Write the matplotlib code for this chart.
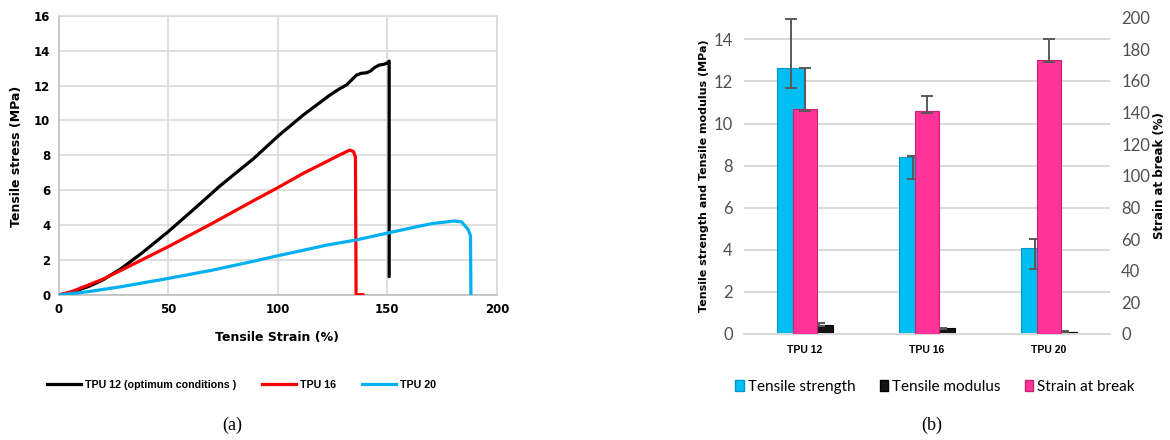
import matplotlib
matplotlib.use("Agg")
import matplotlib.pyplot as plt
from matplotlib.lines import Line2D
from matplotlib.patches import Patch
import numpy as np

# ---------------- data: (a) stress-strain curves ----------------
strain_tpu12 = [0, 5, 13.5, 20, 28.7, 37.8, 50, 62, 73.6, 88.8, 100.5, 111.6, 123.7, 128, 131.3,
                133.5, 135.9, 138, 140.5, 142.5, 144, 146.2, 148.5, 150, 150.8, 150.8]
stress_tpu12 = [0, 0.12, 0.48, 0.85, 1.53, 2.39, 3.63, 4.95, 6.25, 7.8, 9.15, 10.31, 11.45, 11.8, 12.03,
                12.3, 12.6, 12.7, 12.73, 12.85, 13.02, 13.17, 13.22, 13.3, 13.4, 1.05]

strain_tpu16 = [0, 6, 13.5, 20, 28.7, 50, 70, 90.3, 100, 111.6, 120, 127, 132.8, 134.5, 135.4, 135.7, 139]
stress_tpu16 = [0, 0.2, 0.57, 0.9, 1.43, 2.77, 4.1, 5.5, 6.15, 6.97, 7.5, 7.95, 8.3, 8.22, 7.9, 0.02, 0.02]

strain_tpu20 = [0, 13.5, 28.7, 50, 70, 89.5, 100, 110, 122, 135.6, 150.8, 163.3, 170.8, 180.7,
                183.8, 186.8, 187.9, 188.1]
stress_tpu20 = [0, 0.19, 0.48, 0.95, 1.42, 1.95, 2.25, 2.52, 2.85, 3.15, 3.57, 3.91, 4.1, 4.24,
                4.19, 3.76, 3.4, 0.0]

curve_labels = ["TPU 12 (optimum conditions )", "TPU 16", "TPU 20"]
curve_colors = ["#000000", "#FF0000", "#00B0F0"]

# ---------------- data: (b) bar chart ----------------
categories = ["TPU 12", "TPU 16", "TPU 20"]
tensile_strength = [12.65, 8.43, 4.07]
ts_err_low = [0.98, 1.07, 0.97]
ts_err_high = [2.31, 0.03, 0.44]
tensile_modulus = [0.43, 0.27, 0.10]
tm_err = [0.07, 0.03, 0.02]
strain_at_break = [142.0, 141.2, 173.2]
sb_err_low = [0.8, 1.3, 1.3]
sb_err_high = [26.3, 9.2, 13.3]

W, H = 1170, 440
fig = plt.figure(figsize=(W / 100, H / 100), dpi=100)
fig.patch.set_facecolor("white")
SANS = ["Lato", "DejaVu Sans"]
BOLD = ["Liberation Sans", "DejaVu Sans"]

def fx(px):
    return px / W

def fy(py):
    return 1 - py / H

# ================= (a) =================
ax = fig.add_axes([fx(58.7), fy(295), fx(497 - 58.7), (295 - 15.7) / H])
for s, t, c in zip([strain_tpu12, strain_tpu16, strain_tpu20],
                   [stress_tpu12, stress_tpu16, stress_tpu20], curve_colors):
    ax.plot(s, t, color=c, lw=2.3, solid_joinstyle="round", solid_capstyle="round", zorder=3)
ax.set_xlim(0, 200)
ax.set_ylim(0, 16)
ax.set_xticks(np.arange(0, 201, 50))
ax.set_yticks(np.arange(0, 17, 2))
ax.grid(True, color="#D9D9D9", lw=1.2)
ax.set_axisbelow(True)
for sp in ax.spines.values():
    sp.set_color("#D9D9D9")
    sp.set_linewidth(1.2)
ax.spines["bottom"].set_color("#BFBFBF")
ax.spines["left"].set_color("#BFBFBF")
ax.tick_params(length=0, pad=6, labelsize=8.5)
for lab in ax.get_xticklabels() + ax.get_yticklabels():
    lab.set_fontweight("bold")
fig.text(fx(277), fy(337), "Tensile Strain (%)", ha="center", va="center",
         fontsize=9, fontweight="bold")
fig.text(fx(17), fy(156), "Tensile stress (MPa)", ha="center", va="center",
         fontsize=9, fontweight="bold", rotation=90)

handles_a = [Line2D([0], [0], color=c, lw=2.3) for c in curve_colors]
fig.legend(handles_a, curve_labels, loc="center", bbox_to_anchor=(fx(241.5), fy(385)),
           ncol=3, frameon=False, handlelength=3.2, handletextpad=0.35, columnspacing=2.4,
           prop={"size": 7.7, "weight": "bold", "family": BOLD})
fig.text(fx(232), fy(425), "(a)", ha="center", va="center", fontsize=13,
         family="Liberation Serif")

# ================= (b) =================
bx = fig.add_axes([fx(744), fy(334), fx(1110 - 744), (334 - 17.7) / H])
bx2 = bx.twinx()
x = np.arange(len(categories))
cyan = "#00BDF2"
pink = "#FF3399"
blk = "#141414"
err_kw = dict(ecolor="#595959", elinewidth=1.4, capsize=4, capthick=1.4)

bx.bar(x - 0.115, tensile_strength, width=0.23, color=cyan, edgecolor="#0098C8", lw=0.8,
       yerr=[ts_err_low, ts_err_high], error_kw=err_kw, zorder=2)
bx.bar(x + 0.115, tensile_modulus, width=0.23, color=blk, edgecolor="#000000", lw=0.8,
       yerr=tm_err, error_kw=err_kw, zorder=2)
bx2.bar(x, strain_at_break, width=0.19, color=pink, edgecolor="#C8246F", lw=0.8,
        yerr=[sb_err_low, sb_err_high], error_kw=err_kw, zorder=2)

bx.set_xlim(-0.5, 2.5)
bx.set_ylim(0, 15.03)
bx2.set_ylim(0, 200)
bx.set_yticks(np.arange(0, 15, 2))
bx2.set_yticks(np.arange(0, 201, 20))
bx.set_xticks(x)
bx.set_xticklabels(categories, fontsize=7.5, fontweight="bold", family=BOLD)
bx.grid(True, axis="y", color="#D9D9D9", lw=1.4)
bx.set_axisbelow(True)
for a in (bx, bx2):
    for sp in a.spines.values():
        sp.set_visible(False)
bx.spines["bottom"].set_visible(True)
bx.spines["bottom"].set_color("#D9D9D9")
bx.spines["bottom"].set_linewidth(1.4)
bx.tick_params(axis="y", length=0, labelsize=12, labelcolor="#505050", pad=8)
bx.tick_params(axis="x", length=0, pad=8)
bx2.tick_params(axis="y", length=0, labelsize=12, labelcolor="#505050", pad=8)
for lab in bx.get_yticklabels() + bx2.get_yticklabels():
    lab.set_family(SANS)
fig.text(fx(704), fy(176), "Tensile strength and Tensile modulus (MPa)", ha="center",
         va="center", rotation=90, fontsize=8, fontweight="bold")
fig.text(fx(1160), fy(176), "Strain at break (%)", ha="center", va="center",
         rotation=90, fontsize=8.5, fontweight="bold")

handles_b = [Patch(facecolor=cyan, edgecolor="#0098C8"),
             Patch(facecolor=blk, edgecolor="#000000"),
             Patch(facecolor=pink, edgecolor="#C8246F")]
fig.legend(handles_b, ["Tensile strength", "Tensile modulus", "Strain at break"],
           loc="center", bbox_to_anchor=(fx(935), fy(387)), ncol=3, frameon=False,
           handlelength=0.55, handleheight=0.7, handletextpad=0.25, columnspacing=1.6,
           prop={"size": 11, "family": SANS})
fig.text(fx(932), fy(425), "(b)", ha="center", va="center", fontsize=13,
         family="Liberation Serif")

fig.savefig("out.png", dpi=100, facecolor="white")
